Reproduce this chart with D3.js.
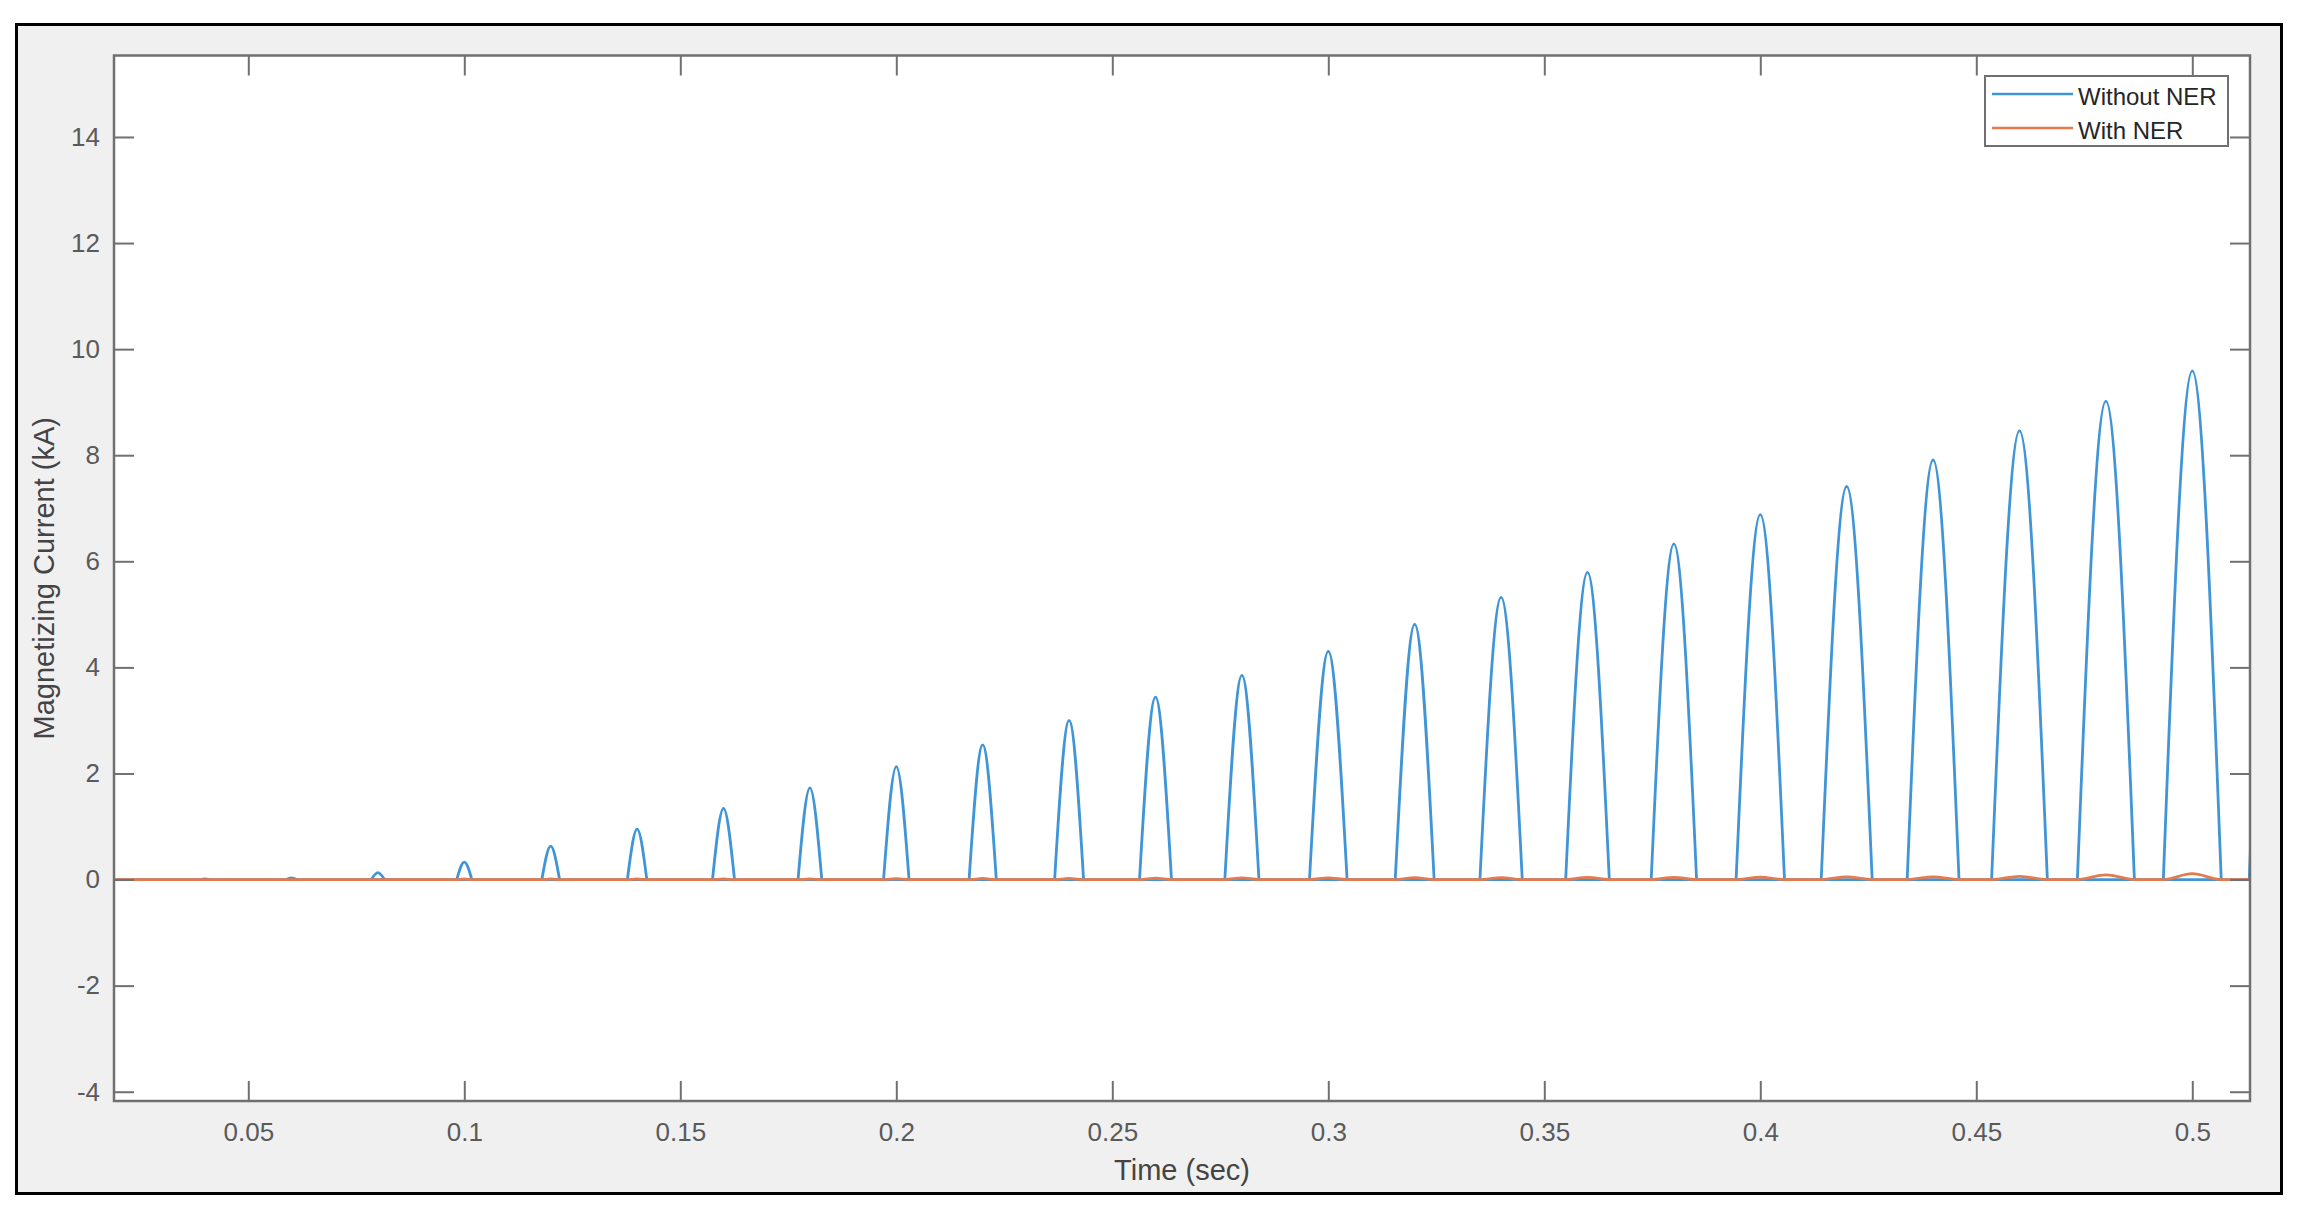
<!DOCTYPE html>
<html>
<head>
<meta charset="utf-8">
<script src="https://cdn.jsdelivr.net/npm/d3@7"></script>
<style>
  html, body { margin: 0; padding: 0; background: #ffffff; }
  svg { display: block; font-family: "Liberation Sans", Arial, sans-serif; }
</style>
</head>
<body>
<svg id="chart" width="2306" height="1216"></svg>
<script>
// pulse centres (sec), one per cycle
var pulseTimes = [0.04, 0.06, 0.08, 0.10, 0.12, 0.14, 0.16, 0.18, 0.20, 0.22, 0.24, 0.26,
                  0.28, 0.30, 0.32, 0.34, 0.36, 0.38, 0.40, 0.42, 0.44, 0.46, 0.48, 0.50, 0.52];
// peak magnetizing current without NER (kA)
var withoutNer = [0.01, 0.03, 0.13, 0.33, 0.63, 0.95, 1.34, 1.73, 2.13, 2.54, 3.00, 3.44,
                  3.85, 4.30, 4.81, 5.32, 5.79, 6.33, 6.88, 7.41, 7.91, 8.46, 9.02, 9.59, 10.1];
// base width of each pulse (sec)
var pulseWidths = [0.0020, 0.0025, 0.0031, 0.0035, 0.0041, 0.0045, 0.0051, 0.0055, 0.0059, 0.0063, 0.0067, 0.0074,
                   0.0079, 0.0087, 0.0090, 0.0098, 0.0101, 0.0105, 0.0112, 0.0118, 0.0120, 0.0129, 0.0132, 0.0134, 0.0136];
// peak magnetizing current with NER (kA)
var withNer = [0, 0, 0, 0.01, 0.01, 0.01, 0.01, 0.01, 0.015, 0.02, 0.02, 0.025,
               0.03, 0.03, 0.035, 0.035, 0.04, 0.04, 0.045, 0.05, 0.05, 0.06, 0.09, 0.11, 0];

var xTicks = [0.05, 0.1, 0.15, 0.2, 0.25, 0.3, 0.35, 0.4, 0.45, 0.5];
var yTicks = [-4, -2, 0, 2, 4, 6, 8, 10, 12, 14];
var xLimits = [0.01891, 0.51336];
var yLimits = [-4.175, 15.536];
var seriesNames = ["Without NER", "With NER"];
var seriesColors = ["#4095d6", "#e57a4c"];

var plot = {left: 114, top: 55.5, right: 2250, bottom: 1101};

var svg = d3.select("#chart");

// figure frame
svg.append("rect")
    .attr("x", 16.5).attr("y", 24.5)
    .attr("width", 2265).attr("height", 1169)
    .attr("fill", "#f0f0f0")
    .attr("stroke", "#000").attr("stroke-width", 3);

svg.append("rect")
    .attr("x", plot.left).attr("y", plot.top)
    .attr("width", plot.right - plot.left).attr("height", plot.bottom - plot.top)
    .attr("fill", "#fff");

var x = d3.scaleLinear().domain(xLimits).range([plot.left, plot.right]);
var y = d3.scaleLinear().domain(yLimits).range([plot.bottom, plot.top]);

svg.append("clipPath").attr("id", "clip")
    .append("rect")
    .attr("x", plot.left).attr("y", plot.top)
    .attr("width", plot.right - plot.left).attr("height", plot.bottom - plot.top);

var lines = svg.append("g").attr("clip-path", "url(#clip)");

// blue baseline + one arch per cycle
lines.append("path")
    .datum([[xLimits[0], 0], [xLimits[1], 0]])
    .attr("fill", "none")
    .attr("stroke", seriesColors[0])
    .attr("stroke-width", 2.8)
    .attr("d", d3.line().x(function (d) { return x(d[0]); }).y(function (d) { return y(d[1]); }));

var pulseLine = d3.line()
    .x(function (d) { return x(d[0]); })
    .y(function (d) { return y(d[1]); })
    .curve(d3.curveNatural);

lines.selectAll("path.pulse")
    .data(pulseTimes.map(function (t, i) {
        var w = pulseWidths[i] / 2;
        return [[t - w, 0], [t, withoutNer[i]], [t + w, 0]];
    }))
    .enter()
    .append("path")
    .attr("class", "pulse")
    .attr("fill", "none")
    .attr("stroke", seriesColors[0])
    .attr("stroke-width", 2.8)
    .attr("stroke-linejoin", "round")
    .attr("d", pulseLine);

// with NER: flat line with small bumps
var nerPoints = [[xLimits[0], 0]];
pulseTimes.forEach(function (t, i) {
    var w = pulseWidths[i] / 2;
    nerPoints.push([t - w, 0], [t, withNer[i]], [t + w, 0]);
});
nerPoints.push([xLimits[1], 0]);

lines.append("path")
    .datum(nerPoints)
    .attr("fill", "none")
    .attr("stroke", seriesColors[1])
    .attr("stroke-width", 2.8)
    .attr("d", d3.line()
        .x(function (d) { return x(d[0]); })
        .y(function (d) { return y(d[1]); })
        .curve(d3.curveMonotoneX));

// axes (ticks inward on all four sides)
var axisColor = "#707070";
var tickFont = 26;

function styleAxis(g) {
    g.select(".domain").remove();
    g.selectAll(".tick line").attr("stroke", axisColor).attr("stroke-width", 2);
    g.selectAll(".tick text")
        .attr("fill", "#5a5a5a")
        .attr("font-size", tickFont)
        .attr("font-family", "Liberation Sans, Arial, sans-serif");
}

svg.append("g")
    .attr("transform", "translate(0," + plot.bottom + ")")
    .call(d3.axisBottom(x).tickValues(xTicks).tickSizeInner(-20).tickSizeOuter(0).tickPadding(22)
        .tickFormat(function (d) { return String(+d.toFixed(2)); }))
    .call(styleAxis);

svg.append("g")
    .attr("transform", "translate(0," + plot.top + ")")
    .call(d3.axisTop(x).tickValues(xTicks).tickSizeInner(-20).tickSizeOuter(0).tickFormat(""))
    .call(styleAxis);

svg.append("g")
    .attr("transform", "translate(" + plot.left + ",0)")
    .call(d3.axisLeft(y).tickValues(yTicks).tickSizeInner(-20).tickSizeOuter(0).tickPadding(14)
        .tickFormat(function (d) { return String(d); }))
    .call(styleAxis);

svg.append("g")
    .attr("transform", "translate(" + plot.right + ",0)")
    .call(d3.axisRight(y).tickValues(yTicks).tickSizeInner(-20).tickSizeOuter(0).tickFormat(""))
    .call(styleAxis);

// axes box
svg.append("rect")
    .attr("x", plot.left).attr("y", plot.top)
    .attr("width", plot.right - plot.left).attr("height", plot.bottom - plot.top)
    .attr("fill", "none")
    .attr("stroke", axisColor)
    .attr("stroke-width", 2.5);

// axis labels
svg.append("text")
    .attr("x", (plot.left + plot.right) / 2)
    .attr("y", 1180)
    .attr("text-anchor", "middle")
    .attr("font-size", 29)
    .attr("fill", "#444")
    .text("Time (sec)");

svg.append("text")
    .attr("transform", "translate(54," + (plot.top + plot.bottom) / 2 + ") rotate(-90)")
    .attr("text-anchor", "middle")
    .attr("font-size", 29)
    .attr("fill", "#444")
    .text("Magnetizing Current (kA)");

// legend
var legend = svg.append("g").attr("transform", "translate(1985,76)");
legend.append("rect")
    .attr("x", 0).attr("y", 0)
    .attr("width", 243).attr("height", 70)
    .attr("fill", "#fff")
    .attr("stroke", axisColor)
    .attr("stroke-width", 2);

var items = legend.selectAll("g.item")
    .data(seriesNames)
    .enter()
    .append("g")
    .attr("class", "item")
    .attr("transform", function (d, i) { return "translate(0," + (18 + i * 34) + ")"; });

items.append("line")
    .attr("x1", 7).attr("x2", 88)
    .attr("stroke", function (d, i) { return seriesColors[i]; })
    .attr("stroke-width", 2.5);

items.append("text")
    .attr("x", 93)
    .attr("y", 11)
    .attr("font-size", 24)
    .attr("fill", "#262626")
    .text(function (d) { return d; });
</script>
</body>
</html>
